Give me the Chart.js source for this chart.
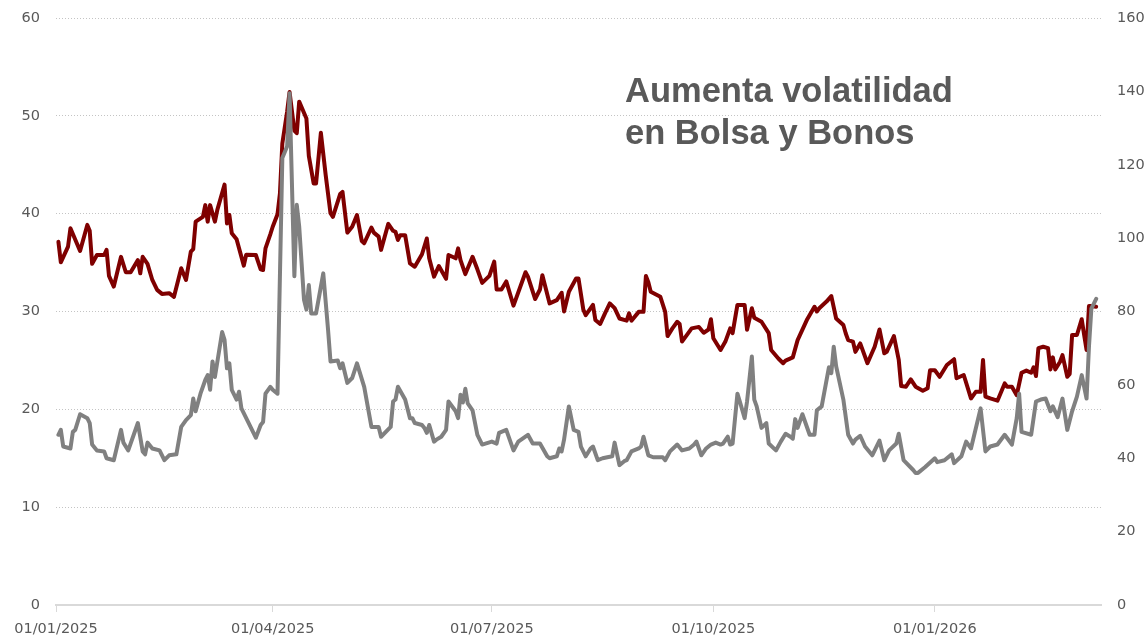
<!DOCTYPE html>
<html><head><meta charset="utf-8">
<script src="https://cdn.jsdelivr.net/npm/chart.js@4.4.1/dist/chart.umd.min.js"></script>
<style>html,body{margin:0;padding:0;background:#fff;} #wrap{position:relative;width:1148px;height:639px;}</style>
</head><body><div id="wrap"><canvas id="c"></canvas></div>
<script>
// Días transcurridos desde el 01/01/2025
const vixDias = [1,2,3,6,7,8,10,13,14,15,17,20,21,24,27,28,30,34,36,37,38,40,43,45,47,50,52,54,56,57,58,60,62,63,64,65,66,69,70,71,72,73,75,76,77,83,85,86,87,89,90,92,94,96,97,99,100,101,103,104,105,106,108,111,113,114,117,118,119,121,123,125,128,131,134,135,139,140,141,142,145,147,148,149,152,153,154,155,157,158,160,162,163,166,167,168,169,170,171,173,175,177,181,183,184,187,190,192,196,198,201,204,205,208,209,210,211,213,215,217,218,220,222,223,225,227,231,232,234,236,237,239,242,243,244,246,248,252,253,255,258,260,263,265,266,268,270,272,274,276,277,279,280,281,283,284,286,287,289,290,291,293,295,296,299,301,303,305,306,307,308,310,313,315,316,318,321,322,323,324,327,329,331,332,334,336,339,342,344,346,349,350,352,356,357,358,361,365,366,369,372,373,376,378,380,384,386,388,391,394,397,399,400,401,405,407,409,411,413,414,416,418,420,422,424,426,428,429,430,432];
const vixValores = [17.4,17.9,16.2,16.0,17.7,17.9,19.5,19.1,18.6,16.4,15.8,15.7,15.0,14.8,17.9,16.6,15.8,18.6,15.7,15.4,16.6,16.0,15.8,14.8,15.3,15.4,18.2,18.9,19.4,21.1,19.8,21.6,23.0,23.5,22.0,24.9,23.3,27.9,27.1,24.2,24.7,22.0,21.0,21.8,20.1,17.1,18.4,18.7,21.6,22.3,22.0,21.6,45.7,46.9,52.3,33.6,40.9,38.7,31.2,30.2,32.7,29.8,29.8,33.9,28.1,24.9,25.0,24.2,24.7,22.7,23.2,24.7,22.3,18.2,18.2,17.2,18.2,20.8,21.0,22.3,21.0,19.1,19.1,18.6,18.4,18.1,17.6,18.4,16.7,16.9,17.2,17.9,20.8,19.8,19.1,21.5,20.7,22.1,20.6,19.9,17.4,16.4,16.7,16.5,17.6,17.9,15.8,16.7,17.4,16.5,16.5,15.2,15.0,15.2,16.0,15.7,16.9,20.3,17.9,17.7,16.2,15.2,16.0,16.2,14.8,15.0,15.2,16.6,14.3,14.7,14.8,15.7,16.0,16.2,17.2,15.3,15.1,15.1,14.8,15.7,16.4,15.8,16.0,16.4,16.7,15.3,16.0,16.4,16.6,16.4,16.5,17.2,16.4,16.5,21.6,20.8,19.1,20.8,25.4,21.0,20.3,18.1,18.6,16.5,15.8,16.7,17.5,17.2,17.0,19.0,18.1,19.5,17.4,17.4,19.9,20.3,24.3,23.7,26.4,24.4,21.0,17.4,16.5,16.9,17.3,16.2,15.3,16.8,14.8,15.8,16.5,17.5,14.8,13.8,13.5,13.5,14.1,15.0,14.6,14.8,15.4,14.5,15.2,16.7,16.0,20.1,15.7,16.2,16.4,17.4,16.4,19.1,21.6,17.7,17.4,20.8,21.0,21.1,19.8,20.3,19.2,21.1,17.9,19.8,21.3,23.5,21.1,26.4,30.3,31.3];

const moveDias = [1,2,5,6,10,13,14,15,17,20,21,22,24,27,29,31,34,35,36,38,40,42,44,47,49,52,54,56,57,58,61,62,63,64,66,67,70,71,72,73,75,78,79,83,85,86,87,89,90,92,93,94,96,97,99,100,101,104,105,107,108,110,112,114,115,118,119,121,123,125,127,128,131,132,134,135,138,140,141,142,143,145,147,149,152,154,155,157,159,162,163,166,167,168,170,173,175,177,180,182,183,185,187,190,195,196,199,201,202,205,208,210,211,213,216,217,219,220,223,224,226,228,230,232,234,237,238,239,242,244,245,246,247,251,253,254,256,258,259,260,264,267,269,271,272,273,276,278,280,281,283,286,287,289,290,293,296,297,300,302,303,306,308,312,315,316,317,320,322,324,327,328,329,331,332,334,337,340,342,344,345,348,350,351,353,355,357,360,362,363,365,367,370,373,374,377,380,382,384,385,386,388,391,394,395,397,399,401,403,405,406,407,408,410,412,413,414,415,417,418,420,421,422,424,426,427,428,429,430,432];
const moveValores = [99.0,93.4,97.7,102.7,96.5,103.6,102.0,93.0,95.4,95.4,96.8,89.7,86.8,94.9,90.7,90.7,94.0,90.4,94.9,93.0,88.6,85.9,84.8,85.0,84.0,91.8,88.6,96.3,97.0,104.5,105.8,109.0,104.5,109.0,104.5,107.7,114.6,104.0,106.3,101.3,99.7,92.5,95.5,95.4,91.5,91.3,97.2,101.0,103.1,106.5,112.2,125.8,134.5,139.8,129.3,128.6,137.2,132.6,122.4,114.9,114.9,128.7,117.2,106.8,105.8,112.0,112.6,101.5,103.1,106.3,99.2,98.6,102.9,101.5,100.4,96.8,103.9,102.0,101.7,99.5,100.8,100.8,93.1,92.2,95.6,99.9,94.5,89.5,92.4,88.9,95.4,94.5,97.2,94.0,90.2,94.9,91.5,87.8,89.7,93.6,86.0,86.0,88.2,81.6,90.7,89.5,83.4,86.0,89.9,82.2,83.1,85.1,80.0,85.4,89.0,89.0,80.5,79.0,81.8,77.7,76.6,79.5,82.2,80.9,78.1,77.5,79.5,77.5,79.9,79.9,89.7,88.0,85.4,84.0,79.9,73.3,75.4,77.2,76.6,71.8,75.4,75.8,74.2,75.1,77.9,72.7,69.5,71.8,75.4,74.1,81.8,81.8,75.0,80.9,78.3,77.2,74.1,69.5,67.2,65.9,66.6,67.5,72.2,77.9,81.3,80.0,80.9,82.7,84.2,78.1,76.3,74.0,72.2,71.8,69.0,71.3,65.9,70.4,75.1,68.6,69.0,73.3,66.8,59.7,59.5,61.5,59.5,58.4,59.1,64.0,64.0,62.2,65.4,67.0,61.8,62.7,56.3,58.1,58.1,66.8,56.8,56.3,55.7,60.4,59.5,59.5,57.2,63.3,63.9,63.3,64.8,62.4,70.0,70.4,70.0,64.2,67.5,64.2,66.3,68.1,62.2,63.0,73.6,73.6,77.9,73.6,69.5,81.5,81.5,81.3];

const tickDias = [0,90,181,273,365];
const tickEtiquetas = ['01/01/2025','01/04/2025','01/07/2025','01/10/2025','01/01/2026'];
const titulo = ['Aumenta volatilidad','en Bolsa y Bonos'];

const toPts = (xs, ys) => xs.map((d,i)=>({x:d,y:ys[i]}));
const tickFont = {family:'"DejaVu Sans", sans-serif', size:14.5};
const textColor = '#595959';

const tituloPlugin = {
  id:'titulo',
  afterDraw(chart){
    const ctx = chart.ctx;
    ctx.save();
    ctx.font = 'bold 34.5px "Liberation Sans", Arial, sans-serif';
    ctx.fillStyle = textColor;
    ctx.textAlign = 'left';
    ctx.textBaseline = 'alphabetic';
    ctx.fillText(titulo[0], 625, 102);
    ctx.fillText(titulo[1], 625, 143.5);
    ctx.restore();
  }
};

const fitY = w => s => { s.width = w; s.paddingTop = 0; s.paddingBottom = 0; };

new Chart(document.getElementById('c'), {
  type:'line',
  data:{ datasets:[
    {label:'VIX', data:toPts(vixDias,vixValores), yAxisID:'y', borderColor:'#808080', borderWidth:4, pointRadius:0, tension:0, fill:false, borderJoinStyle:'round', borderCapStyle:'round'},
    {label:'MOVE', data:toPts(moveDias,moveValores), yAxisID:'y1', borderColor:'#7f0000', borderWidth:4, pointRadius:0, tension:0, fill:false, borderJoinStyle:'round', borderCapStyle:'round'}
  ]},
  options:{
    responsive:true, maintainAspectRatio:false, animation:false,
    layout:{padding:{top:18,left:0,right:0,bottom:0}, autoPadding:false},
    plugins:{legend:{display:false}, tooltip:{enabled:false}},
    scales:{
      x:{
        type:'linear', min:0, max:434,
        afterBuildTicks: s => { s.ticks = tickDias.map(v=>({value:v})); },
        ticks:{ callback:(v,i)=>tickEtiquetas[i], autoSkip:false, maxRotation:0, color:textColor, font:tickFont, padding:9 },
        grid:{ drawOnChartArea:false, drawTicks:true, tickLength:7, color:'#d9d9d9', lineWidth:1 },
        border:{ display:true, color:'#d9d9d9', width:2 },
        afterFit: s => { s.height = 34; s.paddingLeft = 0; s.paddingRight = 0; }
      },
      y:{
        position:'left', min:0, max:60,
        ticks:{ stepSize:10, color:textColor, font:tickFont, padding:16 },
        grid:{ color:'#c4c4c4', drawTicks:false, lineWidth:1 },
        border:{ display:false, dash:[1,2] },
        afterFit: fitY(56)
      },
      y1:{
        position:'right', min:0, max:160,
        ticks:{ stepSize:20, color:textColor, font:tickFont, padding:16 },
        grid:{ drawOnChartArea:false, drawTicks:false },
        border:{ display:false },
        afterFit: fitY(47)
      }
    }
  },
  plugins:[tituloPlugin]
});
</script></body></html>
